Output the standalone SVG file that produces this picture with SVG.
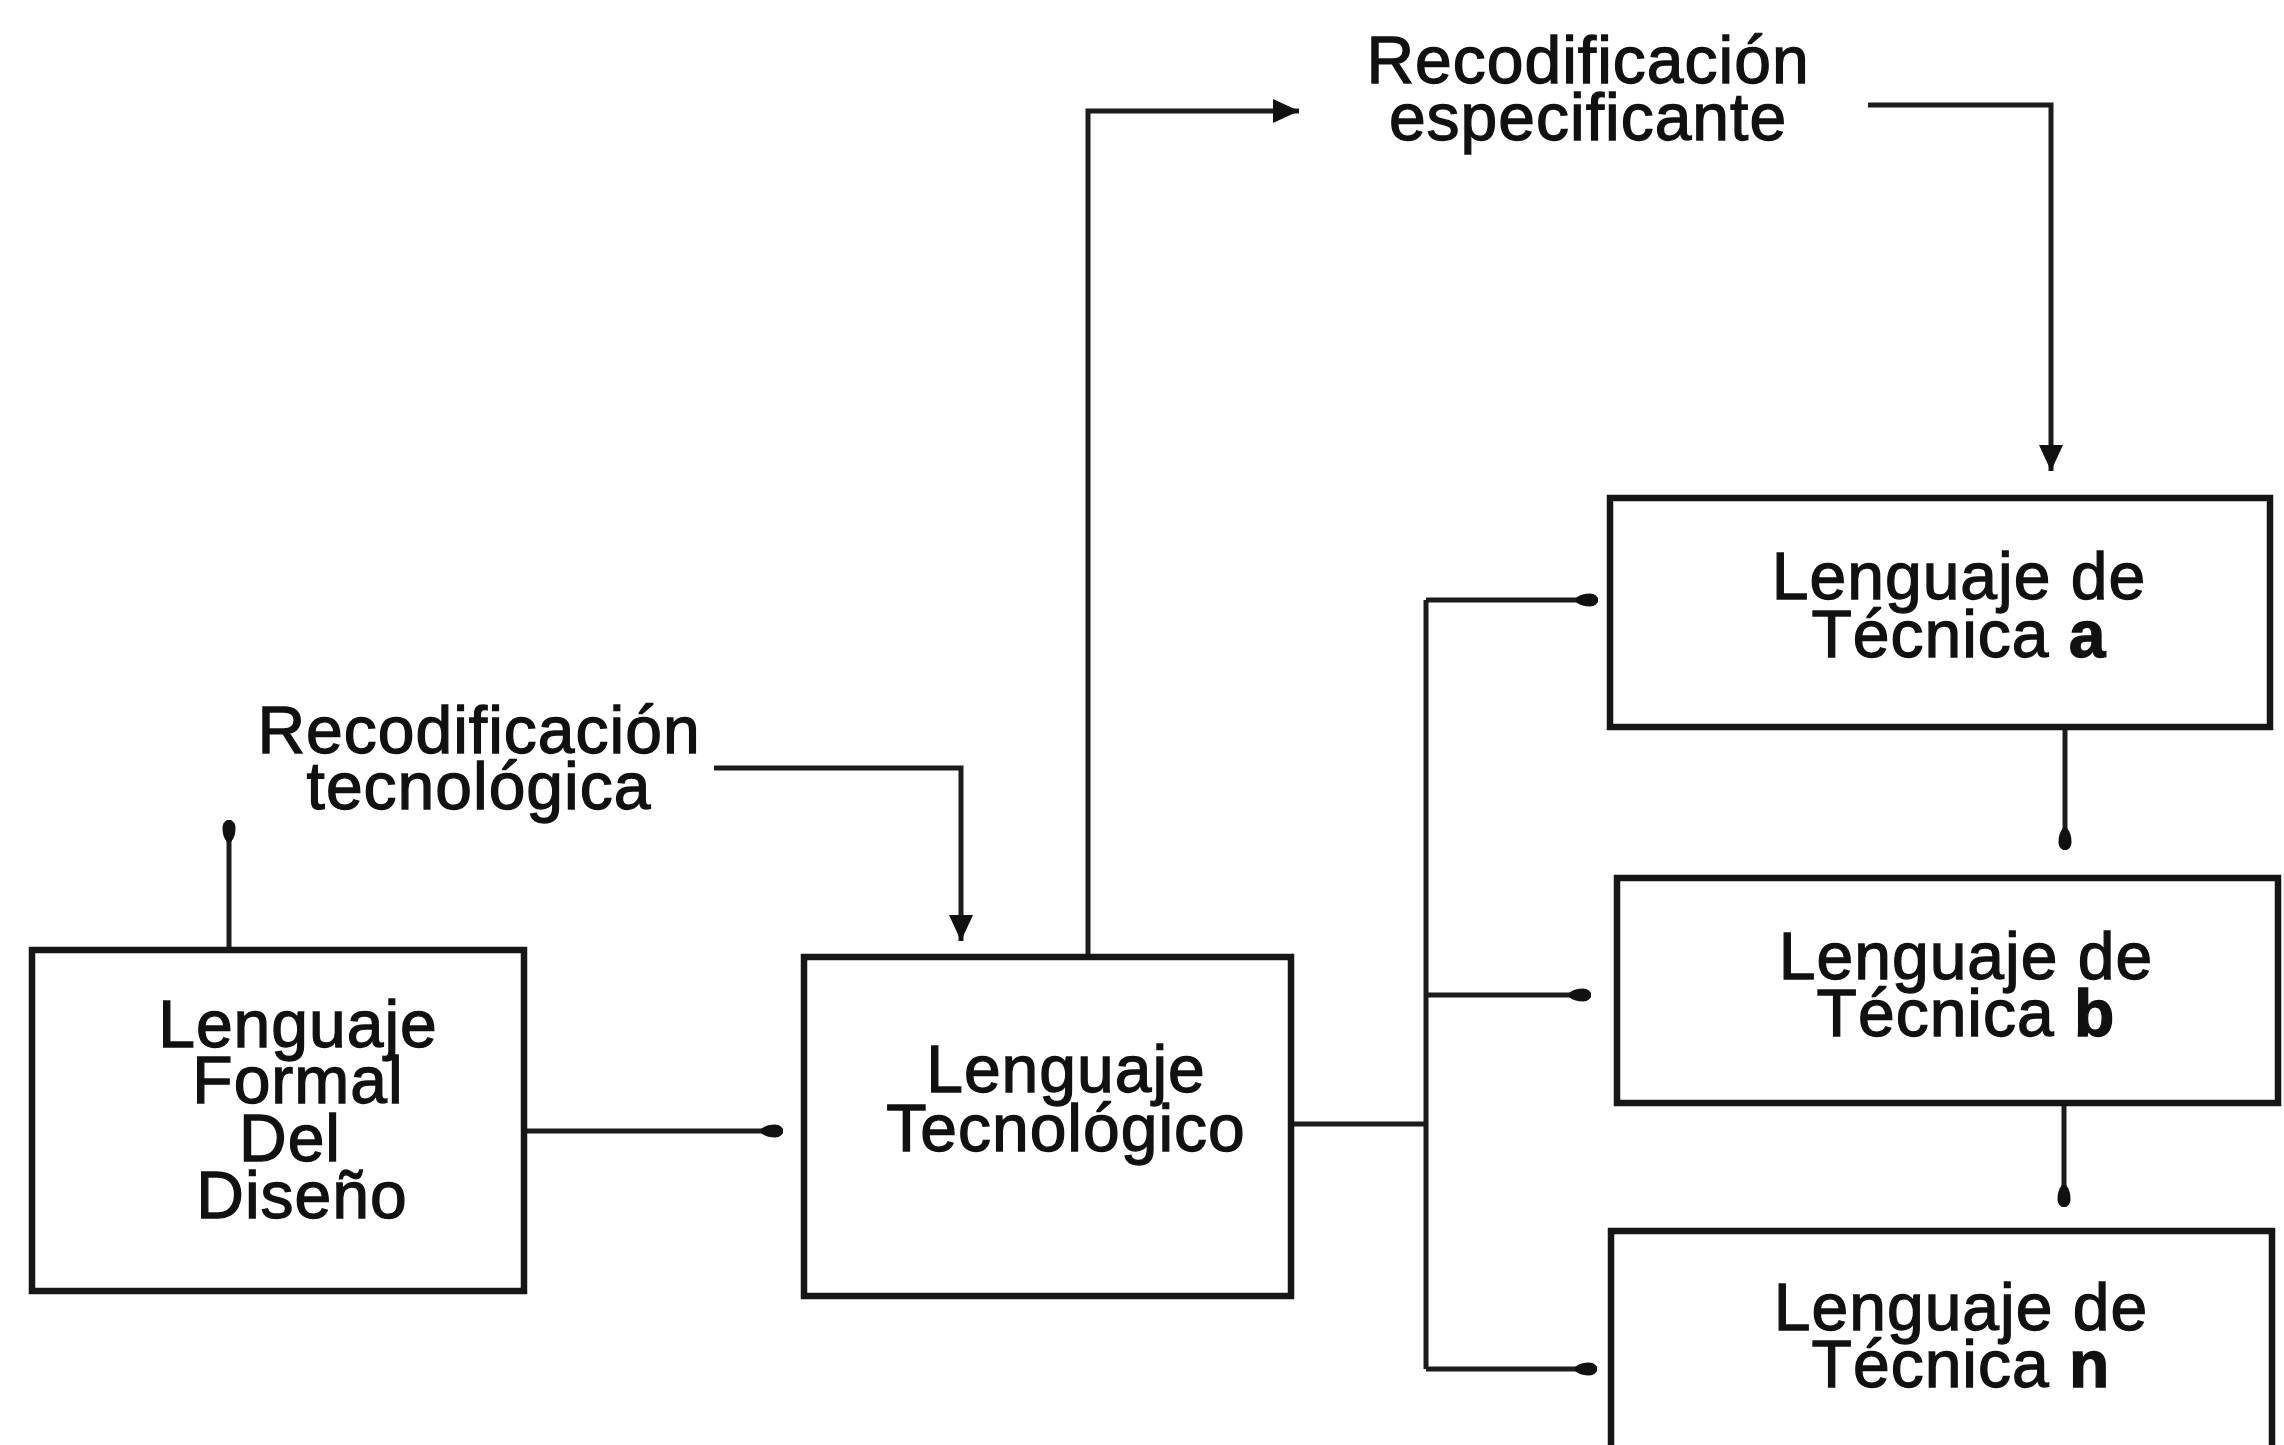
<svg xmlns="http://www.w3.org/2000/svg" width="2284" height="1445" viewBox="0 0 2284 1445">
  <style>
    .box { fill: #ffffff; stroke: #161616; stroke-width: 6.5; }
    .wire { fill: none; stroke: #1c1c1c; stroke-width: 5; stroke-linejoin: miter; }
    .lbl { font-family: "Liberation Sans", Arial, Helvetica, sans-serif; font-size: 66px; fill: #111111; stroke: #111111; stroke-width: 1.3; text-anchor: middle; letter-spacing: 1px; }
    .bold { font-weight: bold; }
  </style>
  <defs>
    <!-- solid triangular head -->
    <marker id="tri" markerUnits="userSpaceOnUse" markerWidth="28" markerHeight="26" refX="26" refY="13" orient="auto">
      <path d="M0,1 L26,13 L0,25 z" fill="#111111"/>
    </marker>
    <!-- small rounded head -->
    <marker id="dot" markerUnits="userSpaceOnUse" markerWidth="26" markerHeight="16" refX="24" refY="8" orient="auto">
      <path d="M2,6 C6,2.5 11,1.5 16,1.5 C21,1.5 24,4.5 24,8 C24,11.5 21,14.5 16,14.5 C11,14.5 6,13.5 2,10 z" fill="#111111"/>
    </marker>
  </defs>

  <rect width="2284" height="1445" fill="#ffffff"/>

  <!-- connectors -->
  <g id="connectors">
    <!-- formal -> up -->
    <path class="wire" d="M229,950 L229,820" marker-end="url(#dot)"/>
    <!-- recodificación tecnológica -> tecnológico -->
    <path class="wire" d="M714,768 L961,768 L961,941" marker-end="url(#tri)"/>
    <!-- formal -> tecnológico -->
    <path class="wire" d="M524,1131 L783,1131" marker-end="url(#dot)"/>
    <!-- tecnológico -> recodificación especificante -->
    <path class="wire" d="M1088,957 L1088,111 L1299,111" marker-end="url(#tri)"/>
    <!-- recodificación especificante -> técnica a -->
    <path class="wire" d="M1868,105 L2051,105 L2051,471" marker-end="url(#tri)"/>
    <!-- tecnológico -> branch bus -->
    <path class="wire" d="M1291,1124 L1426,1124"/>
    <path class="wire" d="M1426,600 L1426,1369"/>
    <path class="wire" d="M1426,600 L1598,600" marker-end="url(#dot)"/>
    <path class="wire" d="M1426,995 L1591,995" marker-end="url(#dot)"/>
    <path class="wire" d="M1426,1369 L1597,1369" marker-end="url(#dot)"/>
    <!-- técnica a -> técnica b -> técnica n -->
    <path class="wire" d="M2065,727 L2065,850" marker-end="url(#dot)"/>
    <path class="wire" d="M2064,1103 L2064,1207" marker-end="url(#dot)"/>
  </g>

  <!-- free labels -->
  <g id="label-especificante">
    <text class="lbl" x="1588" y="83">Recodificación</text>
    <text class="lbl" x="1588" y="140">especificante</text>
  </g>
  <g id="label-tecnologica">
    <text class="lbl" x="479" y="753">Recodificación</text>
    <text class="lbl" x="479" y="809">tecnológica</text>
  </g>

  <!-- nodes -->
  <g id="node-formal">
    <rect class="box" x="32" y="950" width="492" height="341"/>
    <text class="lbl" x="298" y="1047">Lenguaje</text>
    <text class="lbl" x="298" y="1103">Formal</text>
    <text class="lbl" x="290" y="1161">Del</text>
    <text class="lbl" x="302" y="1218">Diseño</text>
  </g>
  <g id="node-tecnologico">
    <rect class="box" x="804" y="957" width="487" height="339"/>
    <text class="lbl" x="1066" y="1092">Lenguaje</text>
    <text class="lbl" x="1066" y="1151">Tecnológico</text>
  </g>
  <g id="node-tecnica-a">
    <rect class="box" x="1610" y="498" width="660" height="229"/>
    <text class="lbl" x="1959" y="599">Lenguaje de</text>
    <text class="lbl" x="1959" y="657">Técnica <tspan class="bold">a</tspan></text>
  </g>
  <g id="node-tecnica-b">
    <rect class="box" x="1617" y="878" width="661" height="225"/>
    <text class="lbl" x="1966" y="979">Lenguaje de</text>
    <text class="lbl" x="1966" y="1036">Técnica <tspan class="bold">b</tspan></text>
  </g>
  <g id="node-tecnica-n">
    <rect class="box" x="1611" y="1231" width="661" height="240"/>
    <text class="lbl" x="1961" y="1330">Lenguaje de</text>
    <text class="lbl" x="1961" y="1387">Técnica <tspan class="bold">n</tspan></text>
  </g>
</svg>
